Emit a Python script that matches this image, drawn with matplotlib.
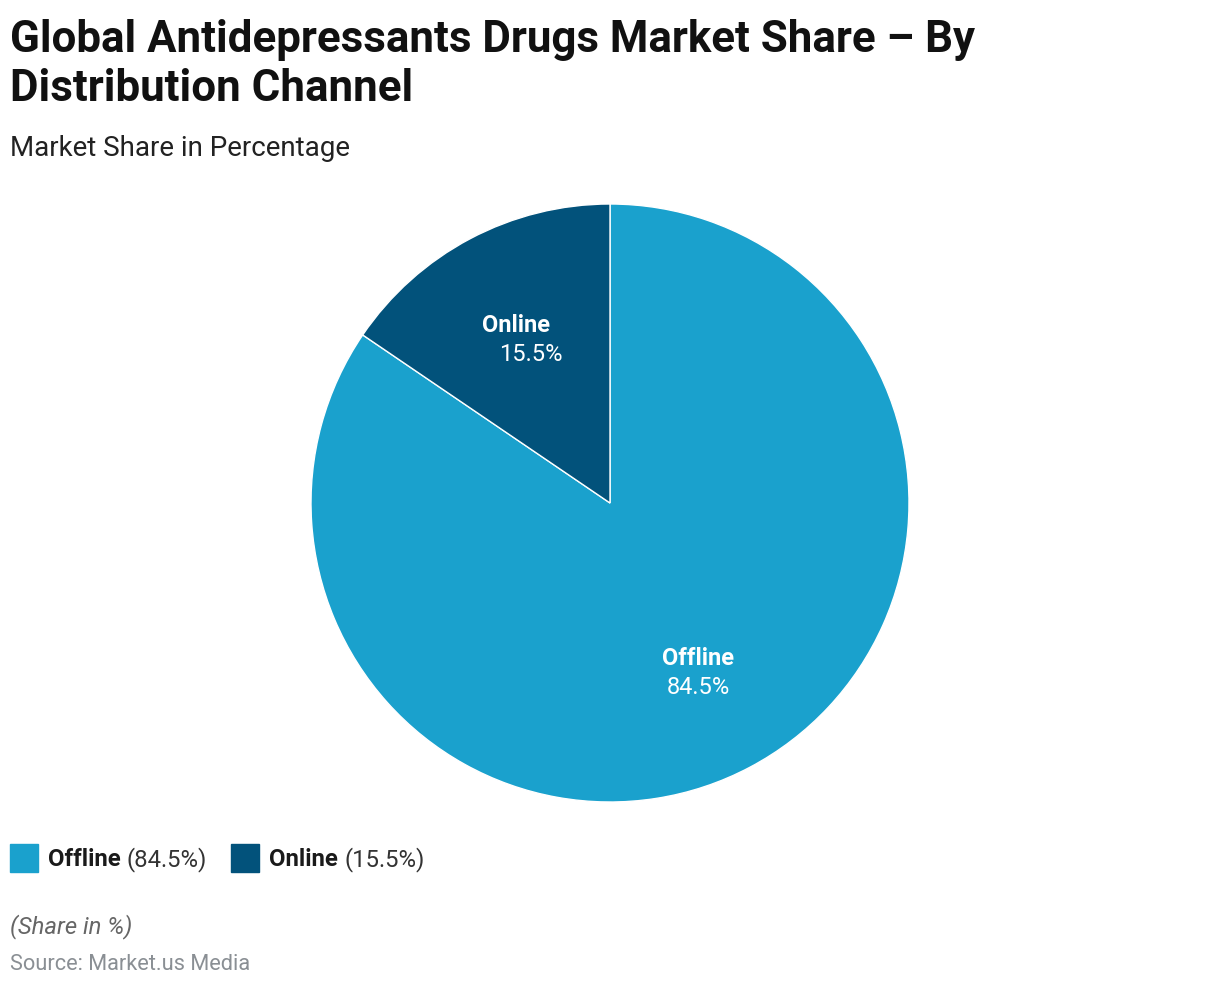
import matplotlib
matplotlib.use("Agg")
import matplotlib.pyplot as plt
import numpy as np

categories = ["Offline", "Online"]
values = [84.5, 15.5]
colors = ["#1aa1cd", "#02527b"]

W, H = 1220, 986
plt.rcParams['font.family'] = ['Roboto', 'DejaVu Sans']
fig = plt.figure(figsize=(W / 100, H / 100), dpi=100)

def fy(y):
    return 1 - y / H

def fx(x):
    return x / W

# Title and subtitle
fig.text(fx(10), fy(52), "Global Antidepressants Drugs Market Share – By", fontsize=31.6,
         fontweight="bold", color="#111111", va="baseline", ha="left")
fig.text(fx(10), fy(101), "Distribution Channel", fontsize=31.6,
         fontweight="bold", color="#111111", va="baseline", ha="left")
fig.text(fx(10), fy(156), "Market Share in Percentage", fontsize=20,
         color="#222222", va="baseline", ha="left")

# Pie
cx, cy, r = 610, 503, 299
ax = fig.add_axes([fx(cx - r), fy(cy + r), 2 * r / W, 2 * r / H])
wedges, _ = ax.pie(values, colors=colors, startangle=90, counterclock=False,
                   radius=1.0, wedgeprops=dict(edgecolor="white", linewidth=1))
ax.set_xlim(-1, 1)
ax.set_ylim(-1, 1)
ax.set_aspect("equal")
ax.axis("off")

for i, (w, cat, val) in enumerate(zip(wedges, categories, values)):
    ang = np.deg2rad((w.theta1 + w.theta2) / 2)
    d = 0.63
    x, y = d * np.cos(ang), d * np.sin(ang) - 0.012
    shift = 0.05 if cat == "Online" else 0.0
    ax.text(x - shift * 0.4, y + 0.048, cat, ha="center", va="center", fontsize=17,
            fontweight="bold", color="white")
    ax.text(x + shift * 0.6, y - 0.048, f"{val}%", ha="center", va="center", fontsize=17,
            color="white")

# Legend
lx = 10
for cat, val, col in zip(categories, values, colors):
    fig.patches.append(matplotlib.patches.Rectangle((fx(lx), fy(872)), 28 / W, 28 / H,
                                                    transform=fig.transFigure, color=col))
    t1 = fig.text(fx(lx + 38), fy(866), cat, fontsize=17.2, fontweight="bold",
                  color="#1a1a1a", va="baseline", ha="left")
    fig.canvas.draw()
    bb = t1.get_window_extent()
    t2 = fig.text(bb.x1 / W + 6 / W, fy(866), f"({val}%)", fontsize=17.2,
                  color="#333333", va="baseline", ha="left")
    fig.canvas.draw()
    bb2 = t2.get_window_extent()
    lx = bb2.x1 + 24

fig.text(fx(10), fy(933), "(Share in %)", fontsize=17.2, style="italic",
         color="#666666", va="baseline", ha="left")
fig.text(fx(10), fy(970), "Source: Market.us Media", fontsize=15.7,
         color="#8a8f94", va="baseline", ha="left")

fig.savefig("out.png", dpi=100)
